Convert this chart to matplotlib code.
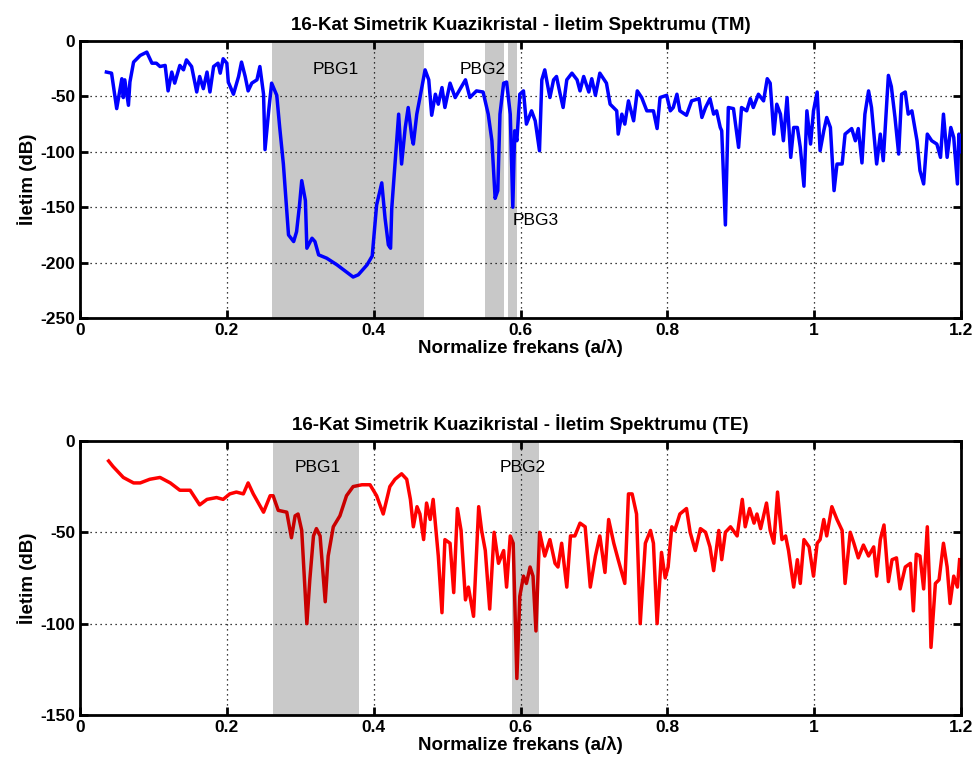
import numpy as np
import matplotlib.pyplot as plt

plt.rcParams['font.family'] = ['Liberation Sans', 'DejaVu Sans']
plt.rcParams['axes.unicode_minus'] = False

# TM spectrum (blue)
tm_freq = [0.036, 0.043, 0.050, 0.057, 0.059, 0.061, 0.066, 0.068, 0.073, 0.082,
           0.091, 0.098, 0.104, 0.109, 0.116, 0.120, 0.125, 0.129, 0.136, 0.141,
           0.145, 0.152, 0.159, 0.163, 0.168, 0.173, 0.177, 0.182, 0.188, 0.191,
           0.195, 0.200, 0.202, 0.209, 0.216, 0.220, 0.225, 0.229, 0.234, 0.241,
           0.245, 0.250, 0.252, 0.257, 0.261, 0.268, 0.272, 0.277, 0.284, 0.291,
           0.295, 0.299, 0.302, 0.307, 0.309, 0.316, 0.320, 0.325, 0.336, 0.350,
           0.366, 0.372, 0.379, 0.391, 0.398, 0.404, 0.411, 0.4155, 0.420, 0.423,
           0.4246, 0.429, 0.434, 0.438, 0.443, 0.447, 0.452, 0.454, 0.4587, 0.463,
           0.470, 0.475, 0.479, 0.484, 0.488, 0.493, 0.497, 0.504, 0.511, 0.518,
           0.525, 0.531, 0.540, 0.549, 0.556, 0.561, 0.5654, 0.569, 0.572, 0.577,
           0.581, 0.586, 0.5895, 0.592, 0.595, 0.599, 0.604, 0.608, 0.615, 0.620,
           0.6258, 0.629, 0.633, 0.640, 0.645, 0.649, 0.654, 0.658, 0.663, 0.670,
           0.677, 0.681, 0.686, 0.693, 0.697, 0.702, 0.708, 0.717, 0.722, 0.731,
           0.733, 0.738, 0.742, 0.747, 0.754, 0.759, 0.765, 0.772, 0.781, 0.786,
           0.790, 0.799, 0.804, 0.808, 0.813, 0.817, 0.826, 0.833, 0.843, 0.847,
           0.852, 0.858, 0.863, 0.867, 0.872, 0.874, 0.879, 0.883, 0.890, 0.897,
           0.901, 0.908, 0.913, 0.917, 0.924, 0.931, 0.936, 0.940, 0.945, 0.949,
           0.954, 0.958, 0.963, 0.968, 0.972, 0.977, 0.981, 0.986, 0.990, 0.995,
           0.999, 1.004, 1.008, 1.013, 1.017, 1.022, 1.027, 1.031, 1.038, 1.042,
           1.051, 1.056, 1.060, 1.065, 1.069, 1.074, 1.078, 1.085, 1.090, 1.094,
           1.101, 1.105, 1.110, 1.115, 1.119, 1.124, 1.128, 1.133, 1.140, 1.144,
           1.149, 1.154, 1.160, 1.167, 1.172, 1.176, 1.181, 1.186, 1.190, 1.195,
           1.197, 1.200]
tm_db = [-28, -29, -61, -34, -51, -35, -58, -37, -19, -13,
         -10, -20, -20, -23, -22, -45, -28, -38, -22, -26,
         -17, -23, -46, -32, -43, -28, -46, -23, -20, -29,
         -16, -20, -37, -48, -32, -19, -32, -45, -38, -35,
         -23, -48, -98, -63, -38, -49, -78, -111, -175, -181,
         -172, -148, -126, -144, -187, -178, -181, -193, -196, -202,
         -210, -213, -211, -202, -194, -148, -128, -160, -184, -187,
         -151, -111, -66, -111, -78, -60, -87, -93, -66, -51,
         -26, -35, -67, -48, -57, -42, -60, -38, -51, -43,
         -35, -51, -45, -46, -66, -90, -142, -135, -66, -38,
         -37, -66, -150, -81, -90, -48, -45, -75, -63, -72,
         -99, -35, -26, -51, -35, -32, -48, -60, -35, -29,
         -35, -45, -32, -46, -34, -49, -29, -38, -57, -63,
         -84, -66, -75, -54, -72, -45, -51, -63, -63, -79,
         -51, -49, -63, -60, -48, -63, -67, -54, -52, -69,
         -60, -52, -66, -63, -78, -81, -166, -60, -61, -96,
         -60, -63, -52, -60, -48, -54, -34, -38, -84, -57,
         -66, -90, -51, -105, -78, -78, -96, -131, -63, -93,
         -63, -46, -99, -81, -69, -78, -135, -111, -111, -84,
         -79, -90, -79, -110, -66, -45, -60, -111, -84, -108,
         -31, -41, -69, -102, -48, -46, -66, -63, -90, -117,
         -129, -84, -90, -93, -105, -66, -105, -78, -87, -129,
         -84, -100]

# TE spectrum (red)
te_freq = [0.039, 0.045, 0.059, 0.073, 0.082, 0.095, 0.109, 0.123, 0.136, 0.150,
           0.163, 0.173, 0.186, 0.195, 0.204, 0.213, 0.2225, 0.229, 0.236, 0.250,
           0.259, 0.263, 0.270, 0.2816, 0.288, 0.293, 0.297, 0.302, 0.309, 0.313,
           0.318, 0.322, 0.327, 0.334, 0.338, 0.345, 0.354, 0.363, 0.372, 0.384,
           0.395, 0.404, 0.413, 0.422, 0.429, 0.438, 0.445, 0.450, 0.454, 0.459,
           0.463, 0.468, 0.472, 0.477, 0.481, 0.486, 0.488, 0.493, 0.497, 0.504,
           0.509, 0.514, 0.519, 0.525, 0.529, 0.536, 0.543, 0.547, 0.552, 0.558,
           0.564, 0.570, 0.577, 0.581, 0.586, 0.590, 0.595, 0.599, 0.604, 0.608,
           0.613, 0.617, 0.621, 0.626, 0.633, 0.640, 0.647, 0.651, 0.656, 0.663,
           0.668, 0.674, 0.681, 0.688, 0.695, 0.702, 0.708, 0.715, 0.720, 0.727,
           0.733, 0.742, 0.747, 0.752, 0.758, 0.763, 0.770, 0.777, 0.781, 0.786,
           0.792, 0.797, 0.801, 0.806, 0.810, 0.817, 0.826, 0.831, 0.838, 0.845,
           0.852, 0.858, 0.863, 0.870, 0.874, 0.879, 0.886, 0.895, 0.902, 0.906,
           0.912, 0.918, 0.922, 0.927, 0.935, 0.940, 0.945, 0.950, 0.956, 0.961,
           0.965, 0.972, 0.977, 0.981, 0.986, 0.993, 0.999, 1.004, 1.008, 1.013,
           1.017, 1.024, 1.031, 1.038, 1.042, 1.049, 1.054, 1.060, 1.067, 1.074,
           1.081, 1.085, 1.090, 1.095, 1.101, 1.106, 1.112, 1.117, 1.124, 1.131,
           1.135, 1.139, 1.144, 1.149, 1.154, 1.157, 1.159, 1.165, 1.170, 1.176,
           1.181, 1.185, 1.190, 1.195, 1.198]
te_db = [-11, -14, -20, -23, -23, -21, -20, -23, -27, -27,
         -35, -32, -31, -32, -29, -28, -29, -23, -29, -39,
         -30, -30, -38, -39, -53, -41, -40, -49, -100, -76,
         -52, -48, -52, -88, -63, -47, -41, -30, -25, -24,
         -24, -30, -40, -25, -21, -18, -21, -32, -47, -36,
         -40, -54, -34, -43, -32, -54, -63, -94, -54, -56,
         -83, -37, -49, -87, -80, -96, -36, -49, -60, -92,
         -50, -67, -60, -80, -52, -56, -130, -85, -74, -78,
         -69, -74, -104, -50, -63, -54, -67, -69, -56, -80,
         -52, -52, -45, -47, -80, -63, -52, -72, -43, -56,
         -65, -78, -29, -29, -40, -100, -56, -49, -56, -100,
         -61, -75, -69, -47, -49, -40, -37, -50, -60, -48,
         -50, -58, -71, -49, -65, -50, -47, -52, -32, -47,
         -37, -45, -40, -48, -34, -49, -56, -28, -54, -52,
         -60, -80, -65, -78, -54, -58, -74, -56, -54, -43,
         -52, -36, -43, -49, -78, -50, -56, -64, -57, -63,
         -58, -74, -54, -46, -77, -65, -64, -81, -69, -67,
         -93, -62, -63, -81, -47, -78, -113, -78, -76, -56,
         -69, -89, -74, -80, -65]

# band gap regions (start, end) and labels (x, y, text)
tm_gaps = [(0.2616, 0.4687), (0.551, 0.577), (0.5836, 0.595)]
tm_labels = [(0.349, -26, 'PBG1'), (0.548, -26, 'PBG2'), (0.62, -162, 'PBG3')]
te_gaps = [(0.263, 0.3806), (0.588, 0.625)]
te_labels = [(0.324, -14.5, 'PBG1'), (0.603, -14.5, 'PBG2')]


def style(ax, title, ylim, yticks):
    ax.set_xlim(0, 1.2)
    ax.set_ylim(*ylim)
    ax.set_xticks([0, 0.2, 0.4, 0.6, 0.8, 1.0, 1.2])
    ax.set_xticklabels(['0', '0.2', '0.4', '0.6', '0.8', '1', '1.2'])
    ax.set_yticks(yticks)
    ax.grid(True, color='black', linestyle=(0, (1, 3)), linewidth=0.9)
    ax.tick_params(direction='in', length=6, width=2, labelsize=12.5, top=True, right=True)
    for lab in ax.get_xticklabels() + ax.get_yticklabels():
        lab.set_fontweight('bold')
    for s in ax.spines.values():
        s.set_linewidth(2)
    ax.set_title(title, fontsize=13.5, fontweight='bold', pad=8)
    ax.set_xlabel('Normalize frekans (a/λ)', fontsize=13.5, fontweight='bold', labelpad=1)
    ax.set_ylabel('İletim (dB)', fontsize=13.5, fontweight='bold', labelpad=2)


fig = plt.figure(figsize=(9.79, 7.7), dpi=100)
ax1 = fig.add_axes([0.0817, 0.587, 0.9, 0.3597])
ax2 = fig.add_axes([0.0817, 0.0714, 0.9, 0.356])

for a, b in tm_gaps:
    ax1.axvspan(a, b, color='#c8c8c8', zorder=1, lw=0)
ax1.plot(tm_freq, tm_db, color='#0000ff', lw=2.5, zorder=3)
for x, y, t in tm_labels:
    ax1.text(x, y, t, ha='center', va='center', fontsize=12.5, zorder=4)
style(ax1, '16-Kat Simetrik Kuazikristal - İletim Spektrumu (TM)', (-250, 0),
      [-250, -200, -150, -100, -50, 0])

ax2.plot(te_freq, te_db, color='#ff0000', lw=2.5, zorder=2)
for a, b in te_gaps:
    ax2.axvspan(a, b, facecolor='black', alpha=0.21, zorder=3, lw=0)
for x, y, t in te_labels:
    ax2.text(x, y, t, ha='center', va='center', fontsize=12.5, zorder=4)
style(ax2, '16-Kat Simetrik Kuazikristal - İletim Spektrumu (TE)', (-150, 0),
      [-150, -100, -50, 0])

plt.savefig('out.png', dpi=100)
